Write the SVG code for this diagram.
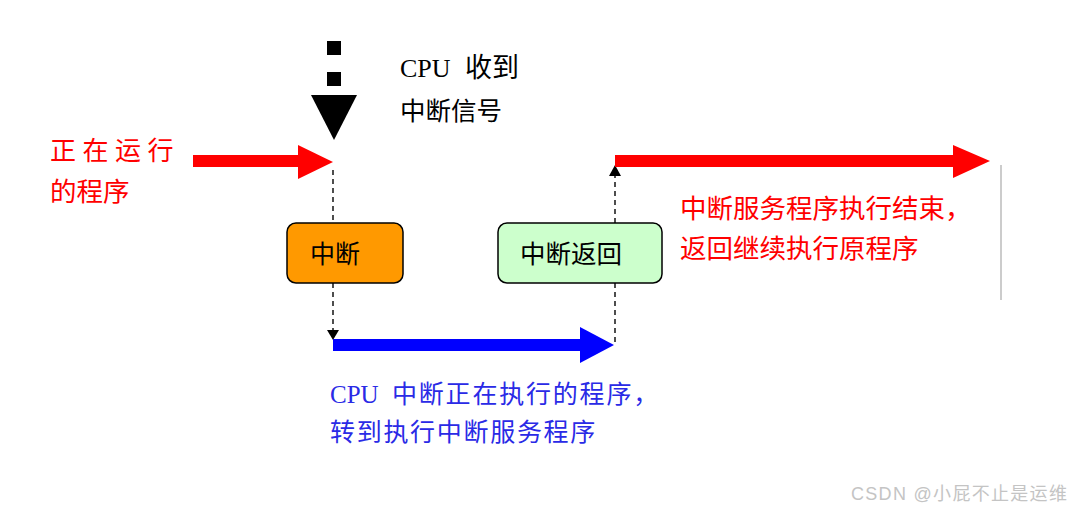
<svg xmlns="http://www.w3.org/2000/svg" width="1077" height="511" viewBox="0 0 1077 511">
<style>
.cjk{font-family:"Noto Sans CJK SC","Noto Sans",sans-serif;}
.lat{font-family:"Liberation Serif",serif;}
.dash{stroke:#222;stroke-width:1.6;stroke-dasharray:5 4;fill:none;}
.box{stroke:#000;stroke-width:1.5;}
</style>
<rect width="1077" height="511" fill="#fff"/>

<g id="connectors">
  <!-- signal arrow -->
  <rect x="327" y="41" width="14" height="14" fill="#000"/>
  <rect x="327" y="72" width="14" height="14" fill="#000"/>
  <polygon points="311,95 357,95 334,140" fill="#000"/>
  <!-- running program red arrow -->
  <rect x="193" y="155" width="107" height="12" fill="#f00"/>
  <polygon points="298,145 333,162 298,179" fill="#f00"/>
  <!-- dashed verticals -->
  <line class="dash" x1="333" y1="170" x2="333" y2="223"/>
  <line class="dash" x1="333" y1="283" x2="333" y2="336"/>
  <polygon points="327,330 339,330 333,340" fill="#000"/>
  <!-- blue arrow -->
  <rect x="333" y="339" width="249" height="12" fill="#00f"/>
  <polygon points="580,327 614,345 580,363" fill="#00f"/>
  <line class="dash" x1="615" y1="283" x2="615" y2="345"/>
  <line class="dash" x1="615" y1="223" x2="615" y2="172"/>
  <polygon points="609,176 621,176 615,165" fill="#000"/>
  <!-- return red arrow -->
  <rect x="615" y="155" width="340" height="12" fill="#f00"/>
  <polygon points="953,145 990,161 953,178" fill="#f00"/>
  <line x1="1001" y1="165" x2="1001" y2="300" stroke="#bbb" stroke-width="1.5"/>
</g>

<g id="label-signal">
  <text y="77" class="lat" font-size="26"><tspan x="400">CPU</tspan><tspan x="465" class="cjk" font-size="27">收到</tspan></text>
  <text x="400" y="120" font-size="25.5" class="cjk">中断信号</text>
</g>

<g id="label-running" fill="#f00">
  <text x="50" y="160" font-size="26" letter-spacing="6.5" class="cjk">正在运行</text>
  <text x="50" y="201" font-size="26.5" class="cjk">的程序</text>
</g>

<g id="node-interrupt">
  <rect class="box" x="287" y="223" width="116" height="60" rx="9" fill="#ff9900"/>
  <text x="310" y="263" font-size="25" class="cjk">中断</text>
</g>

<g id="node-return">
  <rect class="box" x="498" y="223" width="164" height="60" rx="9" fill="#ccffcc"/>
  <text x="520" y="263" font-size="25.5" class="cjk">中断返回</text>
</g>

<g id="label-service" fill="#f00">
  <text x="680" y="218" font-size="26.5" class="cjk">中断服务程序执行结束，</text>
  <text x="680" y="258" font-size="26.5" class="cjk">返回继续执行原程序</text>
</g>

<g id="label-switch" fill="#2a2ae6">
  <text y="403" font-size="25" class="lat"><tspan x="330">CPU</tspan><tspan x="392" class="cjk" letter-spacing="1.8">中断正在执行的程序，</tspan></text>
  <text x="330" y="441" font-size="25" class="cjk" letter-spacing="1.7">转到执行中断服务程序</text>
</g>

<text x="851" y="500" font-size="18" letter-spacing="1.3" fill="#c4c4c4" font-family="'Liberation Sans','Noto Sans CJK SC',sans-serif">CSDN @小屁不止是运维</text>
</svg>
